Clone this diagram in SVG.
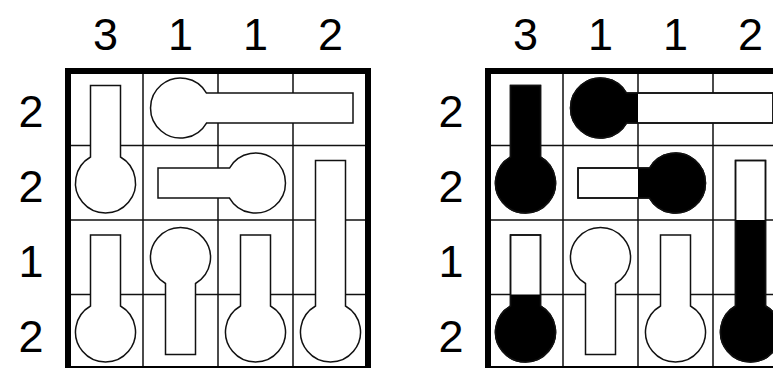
<svg xmlns="http://www.w3.org/2000/svg" xmlns:xlink="http://www.w3.org/1999/xlink" width="773" height="368" viewBox="0 0 773 368">
<style>
.num{font-family:"Liberation Sans",Arial,sans-serif;font-size:45px;fill:#000;text-anchor:middle}
.grid{stroke:#111;stroke-width:1.5;fill:none}
.border{stroke:#000;stroke-width:6;fill:none}
.w{fill:#fff;stroke:#111;stroke-width:1.5}
.o{fill:none;stroke:#111;stroke-width:1.5}
.b{fill:#000}
</style>
<defs>
<path id="pA" d="M90.5,157 V85.5 H120.5 V157 A30,30 0 1 1 90.5,157 Z"/>
<path id="pB" d="M206.5,93 H353 V123 H206.5 A30,30 0 1 1 206.5,93 Z"/>
<path id="pC" d="M229.5,168 A30,30 0 1 1 229.5,198 H158 V168 Z"/>
<path id="pD" d="M315.5,306 V160.5 H345.5 V306 A30,30 0 1 1 315.5,306 Z"/>
<path id="pE" d="M90.5,306 V235 H120.5 V306 A30,30 0 1 1 90.5,306 Z"/>
<path id="pF" d="M165.5,283.5 V354.5 H195.5 V283.5 A30,30 0 1 0 165.5,283.5 Z"/>
<path id="pG" d="M240.5,306 V235 H270.5 V306 A30,30 0 1 1 240.5,306 Z"/>
<g id="gridlines">
<path class="grid" d="M143,71 V369 M218,71 V369 M293,71 V369 M68,145.5 H368 M68,220 H368 M68,294.5 H368"/>
<rect class="border" x="68" y="71" width="300" height="298"/>
</g>
<g id="clues">
<text class="num" x="105.5" y="50">3</text>
<text class="num" x="180.5" y="50">1</text>
<text class="num" x="255.5" y="50">1</text>
<text class="num" x="330.5" y="50">2</text>
<text class="num" x="31" y="127">2</text>
<text class="num" x="31" y="202">2</text>
<text class="num" x="31" y="277">1</text>
<text class="num" x="31" y="352">2</text>
</g>
</defs>

<g id="puzzle">
<use href="#gridlines" xlink:href="#gridlines"/>
<use href="#clues" xlink:href="#clues"/>
<g id="L-A"><use class="w" href="#pA" xlink:href="#pA"/></g>
<g id="L-B"><use class="w" href="#pB" xlink:href="#pB"/></g>
<g id="L-C"><use class="w" href="#pC" xlink:href="#pC"/></g>
<g id="L-D"><use class="w" href="#pD" xlink:href="#pD"/></g>
<g id="L-E"><use class="w" href="#pE" xlink:href="#pE"/></g>
<g id="L-F"><use class="w" href="#pF" xlink:href="#pF"/></g>
<g id="L-G"><use class="w" href="#pG" xlink:href="#pG"/></g>
</g>

<g id="solution" transform="translate(420,0)">
<use href="#gridlines" xlink:href="#gridlines"/>
<use href="#clues" xlink:href="#clues"/>
<g id="R-A">
<use class="w" href="#pA" xlink:href="#pA"/>
<use class="b" href="#pA" xlink:href="#pA"/>
<use class="o" href="#pA" xlink:href="#pA"/>
</g>
<g id="R-B">
<use class="w" href="#pB" xlink:href="#pB"/>
<circle class="b" cx="180.5" cy="108" r="30"/>
<rect class="b" x="180.5" y="93" width="37.5" height="30"/>
<use class="o" href="#pB" xlink:href="#pB"/>
</g>
<g id="R-C">
<use class="w" href="#pC" xlink:href="#pC"/>
<circle class="b" cx="255.5" cy="183" r="30"/>
<rect class="b" x="218" y="168" width="37.5" height="30"/>
<use class="o" href="#pC" xlink:href="#pC"/>
</g>
<g id="R-D">
<use class="w" href="#pD" xlink:href="#pD"/>
<circle class="b" cx="330.5" cy="332" r="30"/>
<rect class="b" x="315.5" y="220" width="30" height="112"/>
<use class="o" href="#pD" xlink:href="#pD"/>
</g>
<g id="R-E">
<use class="w" href="#pE" xlink:href="#pE"/>
<circle class="b" cx="105.5" cy="332" r="30"/>
<rect class="b" x="90.5" y="294.5" width="30" height="37.5"/>
<use class="o" href="#pE" xlink:href="#pE"/>
</g>
<g id="R-F"><use class="w" href="#pF" xlink:href="#pF"/></g>
<g id="R-G"><use class="w" href="#pG" xlink:href="#pG"/></g>
</g>
</svg>
